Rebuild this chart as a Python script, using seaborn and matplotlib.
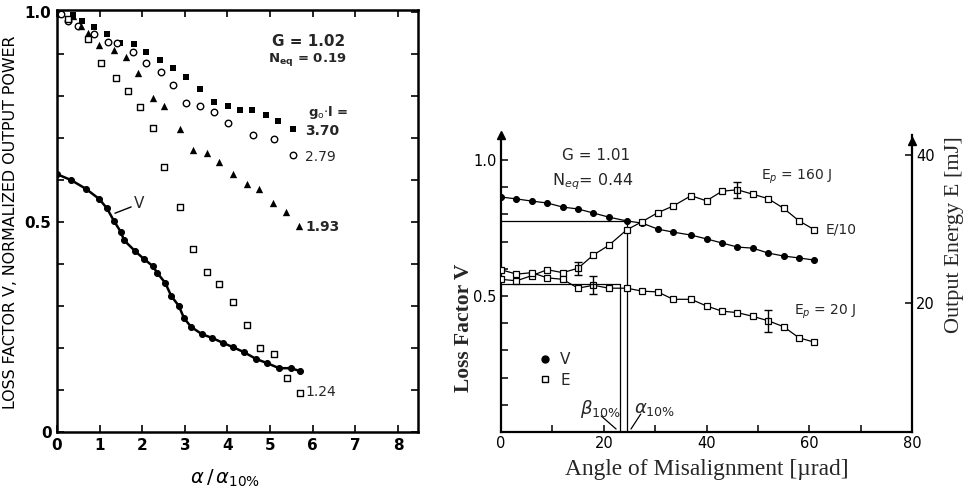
import numpy as np
import pandas as pd
import matplotlib
matplotlib.use("Agg")
import matplotlib.pyplot as plt
import seaborn as sns
from matplotlib.lines import Line2D

# ---------------- Left panel data (alpha / alpha_10%) ----------------
g370_x = [0.38, 0.59, 0.87, 1.17, 1.48, 1.81, 2.09, 2.42, 2.72, 3.03, 3.36, 3.69, 4.01, 4.30, 4.58, 4.91, 5.19, 5.54]
g370_y = [0.993, 0.979, 0.964, 0.948, 0.926, 0.924, 0.905, 0.886, 0.867, 0.845, 0.817, 0.786, 0.776, 0.767, 0.767, 0.755, 0.740, 0.721]

g279_x = [0.0, 0.09, 0.26, 0.49, 0.87, 1.20, 1.41, 1.78, 2.09, 2.44, 2.72, 3.03, 3.36, 3.69, 4.01, 4.60, 5.09, 5.54]
g279_y = [0.995, 0.995, 0.979, 0.967, 0.948, 0.929, 0.926, 0.905, 0.879, 0.857, 0.826, 0.783, 0.776, 0.762, 0.736, 0.707, 0.698, 0.660]

g193_x = [0.38, 0.56, 0.73, 0.99, 1.34, 1.62, 1.90, 2.25, 2.51, 2.89, 3.19, 3.52, 3.80, 4.13, 4.46, 4.74, 5.07, 5.38, 5.68]
g193_y = [0.990, 0.967, 0.950, 0.921, 0.910, 0.893, 0.855, 0.795, 0.776, 0.721, 0.671, 0.664, 0.643, 0.614, 0.590, 0.579, 0.545, 0.524, 0.490]

g124_x = [0.26, 0.73, 1.03, 1.38, 1.67, 1.95, 2.25, 2.51, 2.89, 3.19, 3.52, 3.80, 4.13, 4.46, 4.77, 5.09, 5.40, 5.70]
g124_y = [0.983, 0.936, 0.879, 0.843, 0.812, 0.774, 0.724, 0.631, 0.536, 0.436, 0.381, 0.352, 0.310, 0.255, 0.200, 0.186, 0.129, 0.093]

vL_x = [0.0, 0.33, 0.68, 0.99, 1.17, 1.34, 1.50, 1.57, 1.83, 2.04, 2.25, 2.35, 2.54, 2.68, 2.86, 2.98, 3.15,
        3.40, 3.64, 3.90, 4.13, 4.39, 4.67, 4.93, 5.21, 5.49, 5.70]
vL_y = [0.614, 0.600, 0.579, 0.555, 0.533, 0.502, 0.476, 0.457, 0.431, 0.412, 0.395, 0.379, 0.355, 0.324, 0.300,
        0.271, 0.250, 0.233, 0.224, 0.212, 0.202, 0.190, 0.174, 0.164, 0.152, 0.152, 0.145]

left_series_labels = ["3.70", "2.79", "1.93", "1.24"]

# ---------------- Right panel data (angle of misalignment) ----------------
angle = [0, 3, 6, 9, 12, 15, 18, 21, 24.5, 27.5, 30.5, 33.5, 37, 40, 43, 46, 49, 52, 55, 58, 61]
v_right = [0.864, 0.857, 0.849, 0.842, 0.827, 0.820, 0.805, 0.790, 0.776, 0.768, 0.746, 0.735, 0.724, 0.710,
           0.695, 0.680, 0.676, 0.658, 0.647, 0.640, 0.632]
e160_div10 = [23.2, 23.0, 23.7, 24.5, 24.1, 24.7, 26.5, 27.8, 29.9, 31.0, 32.2, 33.1, 34.5, 33.8, 35.1, 35.3,
              34.7, 34.1, 32.8, 31.1, 29.9]
e20 = [24.5, 23.9, 24.1, 23.4, 23.2, 22.0, 22.4, 22.0, 22.0, 21.6, 21.5, 20.5, 20.5, 19.6, 18.9, 18.7, 18.2,
       17.6, 16.8, 15.3, 14.7]
e160_err_x = [15, 46]
e160_err_y = [24.7, 35.3]
e160_err = [0.9, 1.1]
e20_err_x = [18, 52]
e20_err_y = [22.4, 17.6]
e20_err = [1.2, 1.5]

alpha10 = 24.5
v_alpha_level = 0.774
beta10 = 23.2
e_beta_level = 22.6

# ---------------- Figure ----------------
sns.set_theme(style="ticks")
plt.rcParams['font.family'] = ['DejaVu Sans']
plt.rcParams['mathtext.fontset'] = 'dejavusans'

W, H = 974, 491
fig = plt.figure(figsize=(W / 100, H / 100), dpi=100)
fig.patch.set_facecolor('white')

def fx(px):
    return px / W

def fy(py):
    return 1 - py / H

axL = fig.add_axes([fx(57), fy(432), fx(418) - fx(57), fy(10) - fy(432)])
axR = fig.add_axes([fx(501), fy(432), fx(912) - fx(501), fy(135) - fy(432)])

# ----- Left panel -----
sns.lineplot(x=vL_x, y=vL_y, ax=axL, color='black', lw=1.8, marker='o', markersize=4.3,
             markeredgecolor='black', markerfacecolor='black', sort=False)
sns.scatterplot(x=g370_x, y=g370_y, ax=axL, marker='s', s=20, color='black', linewidth=0)
sns.scatterplot(x=g279_x, y=g279_y, ax=axL, marker='o', s=22, color='white', edgecolor='black', linewidth=1.0)
sns.scatterplot(x=g193_x, y=g193_y, ax=axL, marker='^', s=28, color='black', linewidth=0)
sns.scatterplot(x=g124_x, y=g124_y, ax=axL, marker='s', s=20, color='white', edgecolor='black', linewidth=1.0)

axL.set_xlim(0, 8.47)
axL.set_ylim(0, 1.005)
axL.set_xticks(range(0, 9))
axL.set_xticklabels([str(i) for i in range(0, 9)])
axL.set_yticks([0, 0.5, 1.0])
axL.set_yticklabels(['0', '0.5', '1.0'])
axL.set_yticks(np.arange(0, 1.01, 0.1), minor=True)
axL.tick_params(axis='both', which='both', direction='in', top=True, right=True, length=5, width=1.2,
                colors='black', labelsize=11, pad=4)
for lab in axL.get_xticklabels() + axL.get_yticklabels():
    lab.set_fontweight('bold')
for sp in axL.spines.values():
    sp.set_linewidth(1.8)
    sp.set_color('black')

axL.set_ylabel("LOSS FACTOR V, NORMALIZED OUTPUT POWER", fontsize=11.4, color='black')
axL.yaxis.set_label_coords(-0.108, 0.498)
axL.set_xlabel(r"$\alpha\,/\,\alpha_{10\%}$", fontsize=14, color='black')
axL.xaxis.set_label_coords(0.465, -0.085)

axL.text(5.05, 0.929, "G = 1.02", fontsize=11, fontweight='bold', va='center', ha='left')
axL.text(4.95, 0.886, r"N$_{\mathbf{eq}}$ = 0.19", fontsize=9.5, fontweight='bold', va='center', ha='left')
axL.text(5.89, 0.762, r"g$_{\mathrm{o}}$$\cdot$l =", fontsize=9.5, fontweight='bold', va='center', ha='left')
lab_y = [0.717, 0.655, 0.488, 0.095]
for t, yy in zip(left_series_labels, lab_y):
    axL.text(5.82, yy, t, fontsize=10, fontweight='bold' if t in ("3.70", "1.93") else 'normal',
             va='center', ha='left')
axL.text(1.8, 0.545, "V", fontsize=11, va='center', ha='left')
axL.plot([1.36, 1.74], [0.521, 0.536], color='black', lw=1.0)

# ----- Right panel -----
axE = axR.twinx()
sns.lineplot(x=angle, y=v_right, ax=axR, color='black', lw=0.9, marker='o', markersize=4.3,
             markeredgecolor='black', markerfacecolor='black', sort=False)
sns.lineplot(x=angle, y=e160_div10, ax=axE, color='black', lw=0.9, marker='s', markersize=4.2,
             markeredgecolor='black', markerfacecolor='white', markeredgewidth=0.9, sort=False)
sns.lineplot(x=angle, y=e20, ax=axE, color='black', lw=0.9, marker='s', markersize=4.2,
             markeredgecolor='black', markerfacecolor='white', markeredgewidth=0.9, sort=False)
axE.errorbar(e160_err_x, e160_err_y, yerr=e160_err, fmt='none', ecolor='black', elinewidth=1.0, capsize=3)
axE.errorbar(e20_err_x, e20_err_y, yerr=e20_err, fmt='none', ecolor='black', elinewidth=1.0, capsize=3)

# reference lines alpha_10% and beta_10%
axR.plot([0, alpha10, alpha10], [v_alpha_level, v_alpha_level, 0], color='black', lw=0.9)
axE.plot([0, beta10, beta10], [e_beta_level, e_beta_level, 2.57], color='black', lw=0.9)

axR.set_xlim(0, 80)
axR.set_ylim(0, 1.092)
axE.set_ylim(2.57, 42.7)
axR.set_xticks([0, 20, 40, 60, 80])
axR.set_xticks([10, 30, 50, 70], minor=True)
axR.set_yticks([0.5, 1.0])
axR.set_yticklabels(['0.5', '1.0'])
axR.set_yticks(np.arange(0.1, 1.01, 0.1), minor=True)
axE.set_yticks([20, 40])
axR.tick_params(axis='both', which='both', direction='in', length=5, width=1.1, colors='black',
                labelsize=10.5, top=False, right=False, pad=3)
axE.tick_params(axis='y', which='both', direction='in', length=5, width=1.1, colors='black', labelsize=10.5,
                pad=3)
for a in (axR, axE):
    a.spines['top'].set_visible(False)
    for k in ('left', 'right', 'bottom'):
        a.spines[k].set_linewidth(1.6)
        a.spines[k].set_color('black')
axR.spines['right'].set_visible(False)
axE.spines['left'].set_visible(False)
axE.spines['bottom'].set_visible(False)
axR.plot([0], [1.0], marker='^', color='black', ms=6, transform=axR.transAxes, clip_on=False)
axR.plot([1], [0.98], marker='^', color='black', ms=6, transform=axR.transAxes, clip_on=False)

axR.set_xlabel("")
axR.set_ylabel("")
axE.set_ylabel("")

axR.text(18.5, 1.018, "G = 1.01", fontsize=11, ha='center', va='center')
axR.text(17.9, 0.919, r"N$_{eq}$= 0.44", fontsize=11.5, ha='center', va='center')
axE.text(57.6, 37.0, r"E$_p$ = 160 J", fontsize=10, ha='center', va='center')
axE.text(63.2, 29.9, "E/10", fontsize=10, ha='left', va='center')
axE.text(57.0, 18.8, r"E$_p$ = 20 J", fontsize=10, ha='left', va='center')

axR.text(19.3, 0.085, r"$\beta_{10\%}$", fontsize=13, ha='center', va='center')
axR.text(30.0, 0.085, r"$\alpha_{10\%}$", fontsize=13, ha='center', va='center')
axR.plot([19.5, 22.4], [0.059, 0.011], color='black', lw=0.9)
axR.plot([27.2, 25.3], [0.066, 0.011], color='black', lw=0.9)

handles = [Line2D([], [], marker='o', ls='', color='black', ms=5),
           Line2D([], [], marker='s', ls='', markerfacecolor='white', markeredgecolor='black', ms=5)]
axR.legend(handles=handles, labels=['V', 'E'], loc='upper left', bbox_to_anchor=(0.055, 0.315),
           frameon=False, fontsize=11, handletextpad=0.5, labelspacing=0.35, handlelength=1.0)

fig.text(fx(464), fy(328), "Loss Factor V", rotation=90, ha='center', va='center',
         fontsize=15.5, fontweight='bold', family=['Liberation Serif'])
fig.text(fx(707), fy(470), "Angle of Misalignment [\u00b5rad]", ha='center', va='center',
         fontsize=16.8, family=['Liberation Serif'])
fig.text(fx(955), fy(235), "Output Energy E [mJ]", rotation=90, ha='center', va='center',
         fontsize=16, family=['Liberation Serif'])

fig.savefig("out.png", dpi=100, facecolor='white')
